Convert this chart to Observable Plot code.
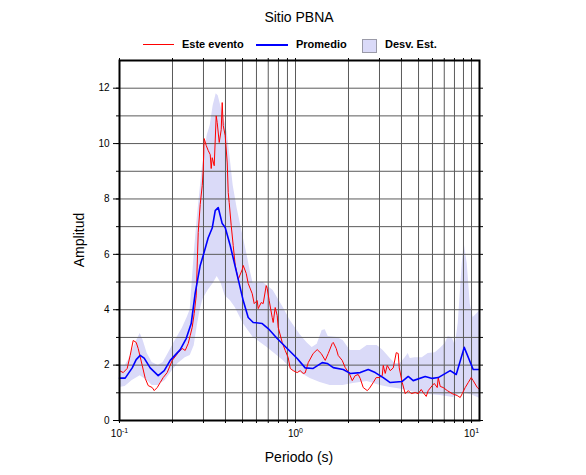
<!DOCTYPE html>
<html>
<head>
<meta charset="utf-8">
<script src="https://cdn.jsdelivr.net/npm/d3@7"></script>
<script src="https://cdn.jsdelivr.net/npm/@observablehq/plot@0.6"></script>
<style>
  html, body { margin: 0; padding: 0; background: #fff; }
  #wrap { position: relative; width: 586px; height: 475px; font-family: "Liberation Sans", Arial, sans-serif; color: #000; }
  #chart { position: absolute; left: 0; top: 0; }
  .ov { position: absolute; white-space: nowrap; }
  .title { left: 0; width: 598px; text-align: center; top: 9px; font-size: 14px; line-height: 16px; }
  .leg { top: 38px; font-size: 11px; line-height: 13px; font-weight: bold; }
  .sw { position: absolute; }
  .xlab { left: 0; width: 598px; text-align: center; top: 449px; font-size: 14px; line-height: 16px; }
  .ylab { left: 79px; top: 240px; font-size: 14px; line-height: 16px; transform: translate(-50%, -50%) rotate(-90deg); }
</style>
</head>
<body>
<div id="wrap">
  <div id="chart"></div>
  <div class="ov title">Sitio PBNA</div>
  <div class="sw" style="left:143px;top:44px;width:31px;height:0;border-top:1.6px solid #ff0000;"></div>
  <div class="ov leg" style="left:182px;">Este evento</div>
  <div class="sw" style="left:256px;top:44px;width:32px;height:0;border-top:2px solid #0000ff;"></div>
  <div class="ov leg" style="left:296px;">Promedio</div>
  <div class="sw" style="left:362px;top:39px;width:13px;height:12px;background:#dadaf8;border:1px solid #9a9aa8;"></div>
  <div class="ov leg" style="left:385px;">Desv. Est.</div>
  <div class="ov xlab">Periodo (s)</div>
  <div class="ov ylab">Amplitud</div>
</div>
<script>
// ---- data (period in s, amplitude) ----
const promedioP = [0.1, 0.1077, 0.1181, 0.1244, 0.1311, 0.1381, 0.1494, 0.1659, 0.1795, 0.1942, 0.2213, 0.2393, 0.2555, 0.2692, 0.2874, 0.2989, 0.3191, 0.3363, 0.3498, 0.3638, 0.3833, 0.3986, 0.4256, 0.4665, 0.5045, 0.5385, 0.575, 0.647, 0.6995, 0.787, 0.8971, 1.0223, 1.1353, 1.2604, 1.418, 1.514, 1.638, 1.866, 2.046, 2.331, 2.589, 2.837, 3.15, 3.452, 4.039, 4.369, 4.664, 5.456, 5.98, 6.469, 7.568, 8.187, 9.09, 10.22, 11.1];
const promedioA = [1.53, 1.53, 1.9, 2.2, 2.35, 2.25, 1.9, 1.62, 1.8, 2.17, 2.56, 2.96, 3.5, 4.6, 5.6, 5.96, 6.6, 6.95, 7.58, 7.69, 7.11, 6.97, 6.32, 5.25, 4.33, 3.72, 3.54, 3.5, 3.32, 2.96, 2.6, 2.24, 1.9, 1.88, 2.09, 2.06, 1.91, 1.84, 1.7, 1.73, 1.84, 1.73, 1.55, 1.37, 1.41, 1.59, 1.44, 1.59, 1.52, 1.55, 1.8, 1.66, 2.64, 1.84, 1.84];

const eventoP = [0.1, 0.105, 0.1106, 0.115, 0.1196, 0.1244, 0.1277, 0.1346, 0.14, 0.1456, 0.1534, 0.1575, 0.1638, 0.1703, 0.1771, 0.1866, 0.1993, 0.2155, 0.2271, 0.2362, 0.2457, 0.2522, 0.2588, 0.2657, 0.2728, 0.2801, 0.2874, 0.2951, 0.2989, 0.3029, 0.3109, 0.3191, 0.3277, 0.3319, 0.3363, 0.3452, 0.3543, 0.359, 0.3686, 0.3783, 0.3833, 0.3884, 0.3986, 0.4093, 0.4147, 0.42, 0.4312, 0.4426, 0.4544, 0.4726, 0.498, 0.5045, 0.5248, 0.5385, 0.5675, 0.5826, 0.6058, 0.6138, 0.6384, 0.6553, 0.6815, 0.6905, 0.7087, 0.7371, 0.7468, 0.7667, 0.787, 0.7974, 0.8403, 0.874, 0.909, 0.9331, 0.9703, 1.0223, 1.063, 1.106, 1.135, 1.181, 1.26, 1.328, 1.4, 1.475, 1.534, 1.616, 1.638, 1.703, 1.748, 1.842, 1.916, 2.02, 2.101, 2.183, 2.271, 2.331, 2.425, 2.555, 2.623, 2.764, 2.874, 2.99, 3.11, 3.15, 3.234, 3.32, 3.452, 3.592, 3.736, 3.834, 3.885, 4.039, 4.202, 4.369, 4.544, 4.788, 4.98, 5.18, 5.317, 5.53, 5.675, 5.98, 6.14, 6.386, 6.469, 6.642, 6.907, 7.278, 7.767, 8.295, 8.627, 8.857, 9.21, 9.579, 9.961, 10.22, 10.78, 11.1];
const eventoA = [1.8, 1.73, 1.88, 2.35, 2.89, 2.82, 2.6, 1.99, 1.52, 1.26, 1.19, 1.08, 1.19, 1.37, 1.55, 1.73, 2.17, 2.45, 2.6, 2.53, 2.78, 3.07, 3.36, 3.86, 4.5, 6.79, 7.8, 8.48, 9.03, 10.18, 9.93, 9.75, 9.6, 9.1, 9.49, 9.2, 11.0, 10.76, 10.04, 10.5, 11.48, 10.65, 10.29, 9.3, 8.23, 7.87, 7.04, 6.32, 5.6, 5.1, 5.45, 5.6, 5.31, 4.95, 4.58, 4.22, 4.33, 4.04, 4.26, 4.22, 4.87, 4.77, 4.33, 3.72, 3.54, 4.08, 3.79, 3.36, 2.82, 2.53, 2.27, 1.88, 1.8, 1.73, 1.8, 1.7, 1.72, 2.09, 2.42, 2.56, 2.42, 2.17, 2.42, 2.78, 2.82, 2.6, 2.35, 2.17, 1.91, 1.7, 1.44, 1.62, 1.66, 1.52, 1.19, 1.08, 1.15, 1.37, 1.55, 1.55, 1.62, 1.99, 1.7, 1.99, 1.8, 1.9, 2.45, 2.42, 1.9, 1.37, 0.97, 1.08, 0.97, 1.01, 0.97, 1.12, 1.01, 0.87, 1.08, 1.26, 1.34, 1.19, 1.55, 1.23, 1.19, 1.08, 0.97, 0.9, 0.83, 0.97, 1.19, 1.37, 1.55, 1.44, 1.19, 1.12];

const desvSupP = [0.1, 0.1077, 0.1121, 0.1228, 0.1311, 0.1363, 0.1437, 0.1534, 0.1659, 0.1771, 0.1891, 0.2073, 0.2271, 0.2424, 0.2522, 0.2657, 0.2764, 0.2951, 0.3149, 0.3277, 0.3406, 0.3543, 0.3638, 0.3884, 0.4093, 0.4256, 0.4426, 0.4665, 0.498, 0.5316, 0.5529, 0.575, 0.6553, 0.7468, 0.8513, 0.9331, 1.063, 1.166, 1.244, 1.328, 1.418, 1.475, 1.534, 1.726, 1.866, 2.046, 2.331, 2.555, 2.912, 3.15, 3.452, 3.686, 3.935, 4.202, 4.369, 4.485, 4.788, 5.248, 5.675, 6.22, 6.642, 7.09, 7.374, 7.767, 8.08, 8.404, 8.857, 9.09, 9.454, 9.831, 10.22, 10.78, 11.1];
const desvSupA = [1.99, 1.99, 2.17, 2.78, 3.14, 2.89, 2.42, 2.09, 1.99, 2.09, 2.42, 2.89, 3.32, 3.72, 4.0, 6.0, 7.29, 9.1, 10.29, 10.65, 11.37, 11.8, 11.73, 11.01, 10.4, 9.46, 8.48, 7.65, 6.79, 5.96, 5.4, 4.95, 4.98, 4.69, 4.08, 3.61, 3.1, 2.8, 2.64, 2.75, 3.25, 3.28, 3.03, 3.0, 2.89, 2.53, 2.53, 2.71, 2.71, 2.53, 2.24, 2.06, 2.06, 2.27, 2.42, 2.24, 2.27, 2.27, 2.42, 2.45, 2.6, 2.78, 3.03, 2.99, 2.71, 3.5, 5.67, 6.39, 5.67, 4.22, 3.72, 3.86, 3.97];

const desvInfP = [0.1, 0.1077, 0.1181, 0.1311, 0.1437, 0.1534, 0.1659, 0.1818, 0.1993, 0.2155, 0.2362, 0.2522, 0.2657, 0.2764, 0.2874, 0.2989, 0.3191, 0.3406, 0.359, 0.3783, 0.3986, 0.4256, 0.4544, 0.5045, 0.575, 0.6905, 0.8513, 0.9703, 1.063, 1.212, 1.381, 1.575, 1.866, 2.127, 2.555, 3.029, 3.452, 4.092, 5.111, 6.642, 7.87, 8.971, 10.22, 11.1];
const desvInfA = [1.19, 1.23, 1.44, 1.62, 1.44, 1.26, 1.26, 1.44, 1.8, 2.06, 2.27, 2.35, 2.7, 3.4, 4.0, 4.4, 4.7, 4.95, 5.2, 4.95, 4.5, 4.33, 4.08, 3.5, 3.0, 2.64, 2.17, 1.8, 1.73, 1.52, 1.37, 1.26, 1.26, 1.34, 1.41, 1.26, 1.19, 1.12, 0.97, 0.9, 0.83, 1.01, 0.9, 0.8];

// ---- ticks ----
const xGridTicks = [0.1, 0.2, 0.3, 0.4, 0.5, 0.6, 0.7, 0.8, 0.9, 1, 2, 3, 4, 5, 6, 7, 8, 9, 10];
const xLabelTicks = [0.1, 1, 10];
const yLabelTicks = [0, 2, 4, 6, 8, 10, 12];
const yGridTicks = [0, 1, 2, 3, 4, 5, 6, 7, 8, 9, 10, 11, 12, 13];

const toRows = (P, A) => P.map((p, i) => ({p, a: A[i]}));
const promedio = toRows(promedioP, promedioA);
const evento = toRows(eventoP, eventoA);
const desvSup = toRows(desvSupP, desvSupA);
const desvInf = toRows(desvInfP, desvInfA);

const BAND = "#dadaf8";
const GRID = "#5a5a5a";
const blank = () => "";

const chart = Plot.plot({
  width: 586,
  height: 475,
  marginLeft: 119,
  marginRight: 107,
  marginTop: 60,
  marginBottom: 55,
  style: {fontFamily: "'Liberation Sans', Arial, sans-serif", fontSize: "10px", background: "white", color: "black"},
  x: {type: "log", domain: [0.1, 11.1]},
  y: {domain: [0, 13]},
  marks: [
    Plot.areaY(desvSup, {x: "p", y: "a", fill: BAND}),
    Plot.areaY(desvInf, {x: "p", y: "a", fill: "white"}),
    Plot.gridX({ticks: xGridTicks, stroke: GRID, strokeOpacity: 1, strokeWidth: 1}),
    Plot.gridY({ticks: yGridTicks, stroke: GRID, strokeOpacity: 1, strokeWidth: 1}),
    Plot.lineY(evento, {x: "p", y: "a", stroke: "#ff0000", strokeWidth: 1}),
    Plot.lineY(promedio, {x: "p", y: "a", stroke: "#0000ff", strokeWidth: 1.6}),
    Plot.frame({stroke: "black", strokeWidth: 2}),
    Plot.axisX({anchor: "bottom", ticks: xGridTicks, tickSize: 3, tickFormat: blank, label: null}),
    Plot.axisX({anchor: "bottom", ticks: xLabelTicks, tickSize: 3, tickPadding: 6, tickFormat: d => "10^" + Math.round(Math.log10(d)), label: null}),
    Plot.axisX({anchor: "top", ticks: xGridTicks, tickSize: 3, tickFormat: blank, label: null}),
    Plot.axisY({anchor: "left", ticks: yGridTicks.slice(0, 13), tickSize: 3, tickFormat: blank, label: null}),
    Plot.axisY({anchor: "left", ticks: yLabelTicks, tickSize: 6, tickPadding: 4, label: null}),
    Plot.axisY({anchor: "right", ticks: yGridTicks.slice(0, 13), tickSize: 3, tickFormat: blank, label: null})
  ]
});

// superscript exponents on the x tick labels
chart.querySelectorAll("text").forEach(t => {
  const s = t.textContent;
  if (/^10\^-?\d+$/.test(s)) {
    const exp = s.split("^")[1];
    t.textContent = "";
    const NS = "http://www.w3.org/2000/svg";
    const b = document.createElementNS(NS, "tspan");
    b.textContent = "10";
    const e = document.createElementNS(NS, "tspan");
    e.textContent = exp;
    e.setAttribute("dy", "-0.45em");
    e.setAttribute("font-size", "7");
    t.appendChild(b);
    t.appendChild(e);
  }
});

document.getElementById("chart").appendChild(chart);
</script>
</body>
</html>
